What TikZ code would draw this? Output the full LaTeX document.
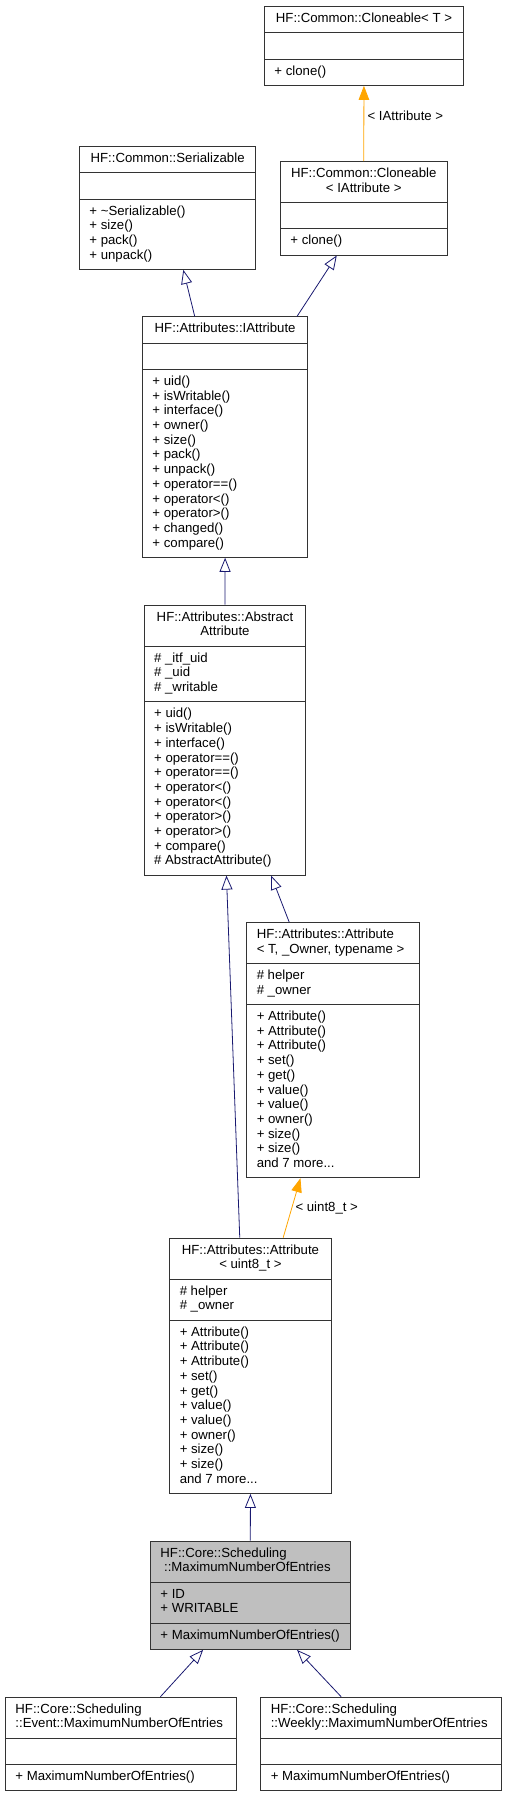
\documentclass[tikz,border=0pt]{standalone}
\usepackage{fontspec}
\setmainfont{Liberation Sans}
\usetikzlibrary{shapes.multipart,arrows.meta}
\definecolor{edgeblue}{HTML}{191970}
\definecolor{edgeorange}{HTML}{FFA500}
\newcommand{\lft}[1]{\begin{tabular}{@{}l@{}}#1\end{tabular}}
\newcommand{\ctr}[1]{\begin{tabular}{@{}c@{}}#1\end{tabular}}
\tikzset{classbox/.style={draw=black!80,line width=0.9pt,rectangle split,rectangle split parts=3,
    rectangle split part align={center,left,left},inner xsep=10pt,inner ysep=5.35pt,anchor=north west},
  leftbox/.style={classbox,rectangle split part align={left,left,left}},
  inherit/.style={draw=edgeblue,line width=0.8pt,-{Triangle[open,length=14pt,width=11pt]}},
  instance/.style={draw=edgeorange,line width=0.8pt,-{Triangle[length=14pt,width=10.5pt]}}}

\begin{document}
\begin{tikzpicture}[x=1pt,y=-1pt,font=\fontsize{13.2}{14.7}\selectfont]
    \useasboundingbox (0,0) rectangle (506,1793);
    \node[classbox,minimum width=199pt] (clT) at (264,6) {\ctr{HF::Common::Cloneable< T >}
      \nodepart{two}\strut \nodepart{three}\lft{+ clone()}};
    \node[classbox,minimum width=176.3pt] (ser) at (79,146) {\ctr{HF::Common::Serializable}
      \nodepart{two}\strut
      \nodepart{three}\lft{+ \textasciitilde Serializable()\\+ size()\\+ pack()\\+ unpack()}};
    \node[classbox,minimum width=166.6pt] (clIA) at (280,161) {\ctr{HF::Common::Cloneable\\< IAttribute >}
      \nodepart{two}\strut \nodepart{three}\lft{+ clone()}};
    \node[classbox,minimum width=165.3pt] (iattr) at (142,316.3) {\ctr{HF::Attributes::IAttribute}
      \nodepart{two}\strut
      \nodepart{three}\lft{+ uid()\\+ isWritable()\\+ interface()\\+ owner()\\+ size()\\+ pack()\\+ unpack()\\
        + operator==()\\+ operator<()\\+ operator>()\\+ changed()\\+ compare()}};
    \node[classbox,minimum width=161.6pt] (abs) at (143.7,604.7) {\ctr{HF::Attributes::Abstract\\Attribute}
      \nodepart{two}\lft{\# \_itf\_uid\\\# \_uid\\\# \_writable}
      \nodepart{three}\lft{+ uid()\\+ isWritable()\\+ interface()\\+ operator==()\\+ operator==()\\+ operator<()\\
        + operator<()\\+ operator>()\\+ operator>()\\+ compare()\\\# AbstractAttribute()}};
    \node[leftbox,minimum width=172.4pt] (atT) at (246.3,922) {\lft{HF::Attributes::Attribute\\< T, \_Owner, typename >}
      \nodepart{two}\lft{\# helper\\\# \_owner}
      \nodepart{three}\lft{+ Attribute()\\+ Attribute()\\+ Attribute()\\+ set()\\+ get()\\+ value()\\+ value()\\
        + owner()\\+ size()\\+ size()\\and 7 more...}};
    \node[classbox,minimum width=161.4pt] (atU) at (169.3,1237.7) {\ctr{HF::Attributes::Attribute\\< uint8\_t >}
      \nodepart{two}\lft{\# helper\\\# \_owner}
      \nodepart{three}\lft{+ Attribute()\\+ Attribute()\\+ Attribute()\\+ set()\\+ get()\\+ value()\\+ value()\\
        + owner()\\+ size()\\+ size()\\and 7 more...}};
    \node[leftbox,fill=black!25,minimum width=199.7pt] (maxN) at (150,1540.7) {\lft{HF::Core::Scheduling\\\ ::MaximumNumberOfEntries}
      \nodepart{two}\lft{+ ID\\+ WRITABLE} \nodepart{three}\lft{+ MaximumNumberOfEntries()}};
    \node[leftbox,minimum width=231pt] (evt) at (5,1696.7) {\lft{HF::Core::Scheduling\\::Event::MaximumNumberOfEntries}
      \nodepart{two}\strut \nodepart{three}\lft{+ MaximumNumberOfEntries()}};
    \node[leftbox,minimum width=240.4pt] (wkl) at (260.3,1696.7) {\lft{HF::Core::Scheduling\\::Weekly::MaximumNumberOfEntries}
      \nodepart{two}\strut \nodepart{three}\lft{+ MaximumNumberOfEntries()}};
    % edges
    \draw[instance] (clIA.north) -- node[right,pos=0.6] {< IAttribute >} (clT.south);
    \draw[inherit] ([xshift=-30.4pt]iattr.north) -- ([xshift=15.7pt]ser.south);
    \draw[inherit] ([xshift=72pt]iattr.north) -- ([xshift=-27pt]clIA.south);
    \draw[inherit] (abs.north) -- (iattr.south);
    \draw[inherit] ([xshift=-10.7pt]atU.north) -- ([xshift=1.5pt]abs.south);
    \draw[inherit] ([xshift=-43.8pt]atT.north) -- ([xshift=46.2pt]abs.south);
    \draw[instance] ([xshift=32.7pt]atU.north) -- node[right] {< uint8\_t >} ([xshift=-32.5pt]atT.south);
    \draw[inherit] (maxN.north) -- (atU.south);
    \draw[inherit] ([xshift=39.5pt]evt.north) -- ([xshift=-47.2pt]maxN.south);
    \draw[inherit] ([xshift=-39.8pt]wkl.north) -- ([xshift=46.8pt]maxN.south);
  \end{tikzpicture}
\end{document}
